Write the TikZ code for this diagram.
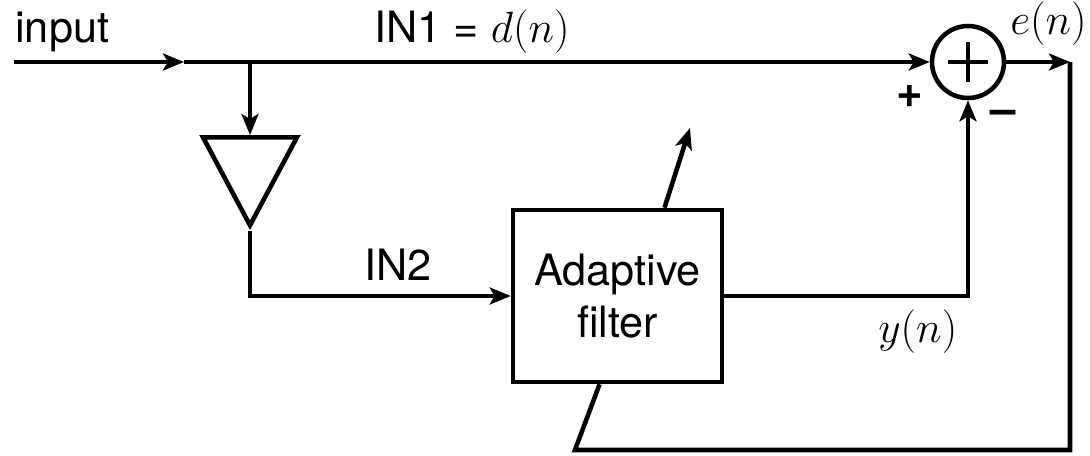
\documentclass[tikz,border=0pt]{standalone}
\usepackage{fontspec}
\setmainfont{TeX Gyre Heros}
\usetikzlibrary{shapes.geometric, arrows.meta, positioning, calc}

\begin{document}
\begin{tikzpicture}[
    x=0.02cm, y=-0.02cm,
    line width=2.6pt,
    font=\fontsize{24.6}{30}\selectfont,
    filterbox/.style={draw, rectangle, minimum width=4.18cm, minimum height=3.44cm, align=center, inner sep=0pt},
    sumnode/.style={draw, circle, minimum size=1.44cm, inner sep=0pt},
    gain/.style={draw, isosceles triangle, shape border rotate=270, isosceles triangle stretches, minimum width=1.88cm, minimum height=1.76cm, inner sep=0pt},
    arrow/.style={-{Stealth[length=0.42cm, width=0.34cm, inset=0.1cm]}},
    sign/.style={font=\fontsize{26}{28}\selectfont\bfseries, inner sep=0pt}
]
    \useasboundingbox (0,0) rectangle (1090,456);

    % Blocks
    \node[sumnode] (sum) at (968,62) {};
    \draw (sum.center) ++(-20,0) -- ++(40,0);
    \draw (sum.center) ++(0,-20) -- ++(0,40);
    \node[gain, anchor=north] (amp) at (250,135) {};
    \node[filterbox] (filter) at (617.5,296) {Adaptive\\filter};

    % Points on the paths
    \coordinate (src) at (14,62);
    \coordinate (mid) at (184,62);
    \coordinate (split) at (250,62);
    \coordinate (eout) at (1070,62);
    \coordinate (fb) at (575,450);
    \coordinate (tune) at (690,128);

    % Signal paths
    \draw[arrow] (src) -- (mid);
    \draw[arrow] (mid) -- (sum.west);
    \draw[arrow] (split) -- (amp.north);
    \draw[arrow] (amp.south) |- (filter.west);
    \draw[arrow] (filter.east) -| (sum.south);
    \draw[arrow] (sum.east) -- (eout);
    \draw (eout) |- (fb) -- ($(filter.south west)!0.416!(filter.south east)$);
    \draw[arrow] ($(filter.north west)!0.72!(filter.north east)$) -- (tune);

    % Labels
    \node[anchor=base west, inner sep=0pt] (lbl_input) at (13,43) {input};
    \node[anchor=base west, inner sep=0pt] (lbl_in1) at (372,43) {IN1 = $d(n)$};
    \node[anchor=base west, inner sep=0pt] (lbl_e) at (1008,35) {$e(n)$};
    \node[anchor=base west, inner sep=0pt] (lbl_in2) at (362,280) {IN2};
    \node[anchor=base west, inner sep=0pt] (lbl_y) at (876,342) {$y(n)$};
    \node[sign] (lbl_plus) at (910,96) {+};
    \node[sign] (lbl_minus) at (1003,117) {\textendash};
\end{tikzpicture}
\end{document}
